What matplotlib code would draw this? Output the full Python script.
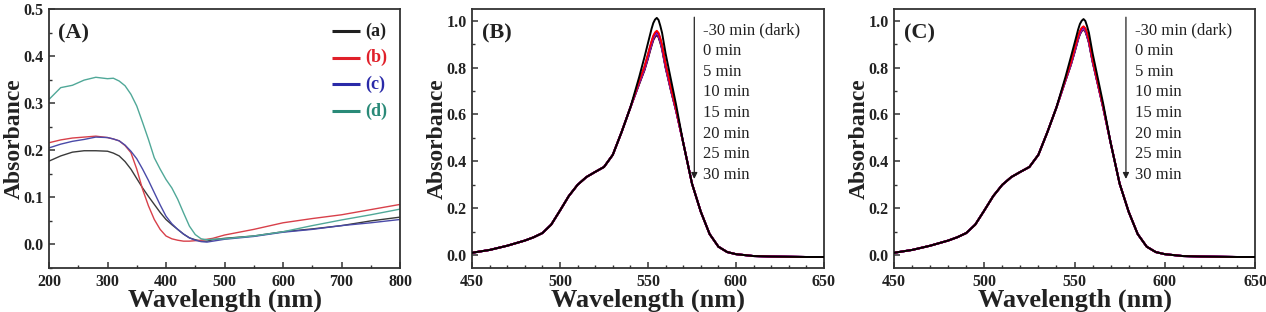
import matplotlib
matplotlib.use("Agg")
import matplotlib.pyplot as plt
from matplotlib.ticker import MultipleLocator, FormatStrFormatter

plt.rcParams['font.family'] = ['Liberation Serif', 'DejaVu Serif']

# ---------------- Panel A data ----------------
wl_a = [200, 220, 240, 260, 280, 300, 310, 320, 330, 340, 350, 360, 370, 380, 390,
        400, 410, 420, 430, 440, 450, 460, 470, 480, 500, 550, 600, 650, 700, 750, 800]
abs_a_a = [0.177, 0.188, 0.196, 0.199, 0.199, 0.198, 0.194, 0.188, 0.176, 0.160, 0.140, 0.120, 0.102, 0.085, 0.068,
           0.053, 0.042, 0.032, 0.022, 0.014, 0.010, 0.007, 0.007, 0.010, 0.013, 0.018, 0.027, 0.033, 0.040, 0.050, 0.058]
abs_a_b = [0.216, 0.222, 0.226, 0.228, 0.230, 0.227, 0.224, 0.220, 0.210, 0.195, 0.160, 0.117, 0.082, 0.053, 0.032,
           0.018, 0.012, 0.009, 0.007, 0.007, 0.008, 0.009, 0.011, 0.013, 0.020, 0.032, 0.046, 0.055, 0.063, 0.074, 0.085]
abs_a_c = [0.205, 0.213, 0.219, 0.223, 0.228, 0.227, 0.224, 0.220, 0.211, 0.198, 0.182, 0.160, 0.136, 0.110, 0.084,
           0.060, 0.044, 0.032, 0.022, 0.014, 0.009, 0.006, 0.005, 0.007, 0.011, 0.017, 0.026, 0.032, 0.040, 0.046, 0.053]
abs_a_d = [0.308, 0.333, 0.338, 0.349, 0.355, 0.352, 0.353, 0.347, 0.337, 0.319, 0.294, 0.259, 0.223, 0.184, 0.160,
           0.138, 0.120, 0.096, 0.067, 0.039, 0.021, 0.012, 0.010, 0.011, 0.012, 0.018, 0.027, 0.040, 0.052, 0.063, 0.075]
labels_a = ['(a)', '(b)', '(c)', '(d)']
colors_a = ['#202020', '#e0202a', '#2a2aa8', '#2a8a78']
line_colors_a = ['#3a3a3a', '#d8404a', '#4a4aa8', '#50a898']

# ---------------- Panels B and C data ----------------
wl_bc = [450, 460, 470, 480, 485, 490, 495, 500, 505, 510, 515, 520, 525, 530, 535, 540,
         545, 548, 550, 551, 552, 553, 554, 555, 556, 557, 558, 560, 563, 566,
         570, 575, 580, 585, 590, 595, 600, 610, 620, 630, 640, 650]
wing_left = [0.010, 0.022, 0.040, 0.062, 0.076, 0.094, 0.130, 0.190, 0.252, 0.300, 0.333, 0.355, 0.376, 0.428,
             0.525, 0.630]
wing_right = [0.480, 0.305, 0.185, 0.090, 0.036, 0.013, 0.004, -0.004, -0.006, -0.007, -0.008, -0.008]

times = ['-30 min (dark)', '0 min', '5 min', '10 min', '15 min', '20 min', '25 min', '30 min']
colors_t = ['#000000', '#ff0000', '#0000ff', '#ff00ff', '#808000', '#000080', '#800080', '#800000']

core_b_dark = [0.760, 0.845, 0.905, 0.935, 0.965, 0.990, 1.005, 1.012, 1.003, 0.978, 0.948, 0.860, 0.750, 0.640]
core_b_0 = [0.742, 0.805, 0.858, 0.886, 0.912, 0.936, 0.950, 0.957, 0.948, 0.925, 0.896, 0.815, 0.715, 0.620]
core_b_5 = [0.740, 0.802, 0.854, 0.882, 0.908, 0.932, 0.946, 0.953, 0.944, 0.921, 0.892, 0.812, 0.713, 0.619]
core_b_10 = [0.738, 0.799, 0.851, 0.879, 0.905, 0.929, 0.943, 0.950, 0.941, 0.918, 0.889, 0.809, 0.711, 0.618]
core_b_15 = [0.736, 0.796, 0.848, 0.876, 0.902, 0.926, 0.940, 0.947, 0.938, 0.915, 0.886, 0.807, 0.709, 0.617]
core_b_20 = [0.734, 0.794, 0.845, 0.873, 0.899, 0.923, 0.937, 0.944, 0.935, 0.912, 0.884, 0.804, 0.707, 0.616]
core_b_25 = [0.732, 0.791, 0.842, 0.870, 0.896, 0.920, 0.934, 0.941, 0.932, 0.909, 0.881, 0.802, 0.705, 0.615]
core_b_30 = [0.730, 0.789, 0.839, 0.867, 0.893, 0.917, 0.931, 0.938, 0.929, 0.906, 0.878, 0.799, 0.703, 0.614]

core_c_dark = [0.760, 0.845, 0.903, 0.932, 0.962, 0.986, 1.000, 1.007, 0.999, 0.976, 0.948, 0.862, 0.752, 0.642]
core_c_0 = [0.750, 0.822, 0.878, 0.906, 0.934, 0.956, 0.970, 0.976, 0.968, 0.946, 0.918, 0.836, 0.732, 0.630]
core_c_5 = [0.749, 0.820, 0.875, 0.903, 0.931, 0.953, 0.967, 0.973, 0.965, 0.943, 0.915, 0.834, 0.731, 0.629]
core_c_10 = [0.748, 0.818, 0.872, 0.900, 0.928, 0.950, 0.964, 0.970, 0.962, 0.940, 0.913, 0.832, 0.730, 0.628]
core_c_15 = [0.747, 0.816, 0.870, 0.898, 0.926, 0.948, 0.962, 0.968, 0.960, 0.938, 0.911, 0.830, 0.729, 0.627]
core_c_20 = [0.746, 0.815, 0.868, 0.896, 0.924, 0.946, 0.960, 0.966, 0.958, 0.936, 0.909, 0.829, 0.728, 0.626]
core_c_25 = [0.745, 0.813, 0.866, 0.894, 0.922, 0.944, 0.958, 0.964, 0.956, 0.934, 0.907, 0.827, 0.727, 0.625]
core_c_30 = [0.744, 0.811, 0.864, 0.892, 0.920, 0.942, 0.956, 0.962, 0.954, 0.932, 0.905, 0.825, 0.726, 0.624]

cores_b = [core_b_dark, core_b_0, core_b_5, core_b_10, core_b_15, core_b_20, core_b_25, core_b_30]
cores_c = [core_c_dark, core_c_0, core_c_5, core_c_10, core_c_15, core_c_20, core_c_25, core_c_30]

# ---------------- figure ----------------
W, H = 1266, 312
fig = plt.figure(figsize=(W / 100, H / 100), dpi=100)


def px_axes(l, r, t, b):
    return fig.add_axes([l / W, 1 - b / H, (r - l) / W, (b - t) / H])


TICK_FONT = dict(family='Liberation Serif', weight='bold', size=11.5)
SPINE_C = '#333333'
TEXT_C = '#222222'


def style(ax, xmaj, xmin, ymaj, ymin):
    for s in ax.spines.values():
        s.set_linewidth(1.3)
        s.set_color(SPINE_C)
    ax.xaxis.set_major_locator(MultipleLocator(xmaj))
    ax.xaxis.set_minor_locator(MultipleLocator(xmin))
    ax.yaxis.set_major_locator(MultipleLocator(ymaj))
    ax.yaxis.set_minor_locator(MultipleLocator(ymin))
    ax.yaxis.set_major_formatter(FormatStrFormatter('%.1f'))
    ax.tick_params(which='both', direction='in', top=False, right=False, color=SPINE_C)
    ax.tick_params(which='major', length=4, width=1.1, pad=4)
    ax.tick_params(which='minor', length=2, width=1.0)
    for lab in ax.get_xticklabels() + ax.get_yticklabels():
        lab.set_fontproperties(TICK_FONT)
        lab.set_color(TEXT_C)
    ax.set_xlabel('Wavelength (nm)', fontsize=19, fontweight='bold', labelpad=-1, color=TEXT_C)
    ax.set_ylabel('Absorbance', fontsize=17, fontweight='bold', labelpad=-1, color=TEXT_C)


# Panel A
axA = px_axes(49, 400, 9, 268)
for y, c in zip([abs_a_a, abs_a_b, abs_a_c, abs_a_d], line_colors_a):
    axA.plot(wl_a, y, color=c, lw=1.0)
axA.set_xlim(200, 800)
axA.set_ylim(-0.05, 0.5)
style(axA, 100, 50, 0.1, 0.05)
axA.text(0.025, 0.905, '(A)', transform=axA.transAxes, fontsize=16, fontweight='bold',
         va='center', ha='left', color=TEXT_C)
# legend (manual, bold coloured labels)
for i, (lab, c) in enumerate(zip(labels_a, colors_a)):
    yy = 0.915 - i * 0.103
    axA.plot([0.805, 0.885], [yy, yy], transform=axA.transAxes, color=c, lw=2.2,
             solid_capstyle='butt')
    axA.text(0.902, yy, lab, transform=axA.transAxes, color=c, fontsize=13,
             fontweight='bold', va='center', ha='left')


def panel_bc(ax, cores, label, arrow_x, text_x):
    for i in range(len(times) - 1, -1, -1):
        y = wing_left + cores[i] + wing_right
        ax.plot(wl_bc, y, color=colors_t[i], lw=1.4, zorder=3 if i == 0 else 2)
    ax.set_xlim(450, 650)
    ax.set_ylim(-0.055, 1.05)
    style(ax, 50, 10, 0.2, 0.1)
    ax.text(0.028, 0.905, label, transform=ax.transAxes, fontsize=16, fontweight='bold',
            va='center', ha='left', color=TEXT_C)
    ax.annotate('', xy=(arrow_x, 0.325), xytext=(arrow_x, 1.015),
                arrowprops=dict(arrowstyle='-|>', color=TEXT_C, lw=0.9,
                                mutation_scale=9, shrinkA=0, shrinkB=0))
    for i, t in enumerate(times):
        ax.text(text_x, 0.957 - i * 0.0877, t, fontsize=12, va='center', ha='left',
                color=TEXT_C)


axB = px_axes(472, 824, 9, 268)
panel_bc(axB, cores_b, '(B)', 576.3, 581.5)
axC = px_axes(894, 1255, 9, 268)
panel_bc(axC, cores_c, '(C)', 578.5, 583.5)

fig.savefig('out.png', dpi=100)
